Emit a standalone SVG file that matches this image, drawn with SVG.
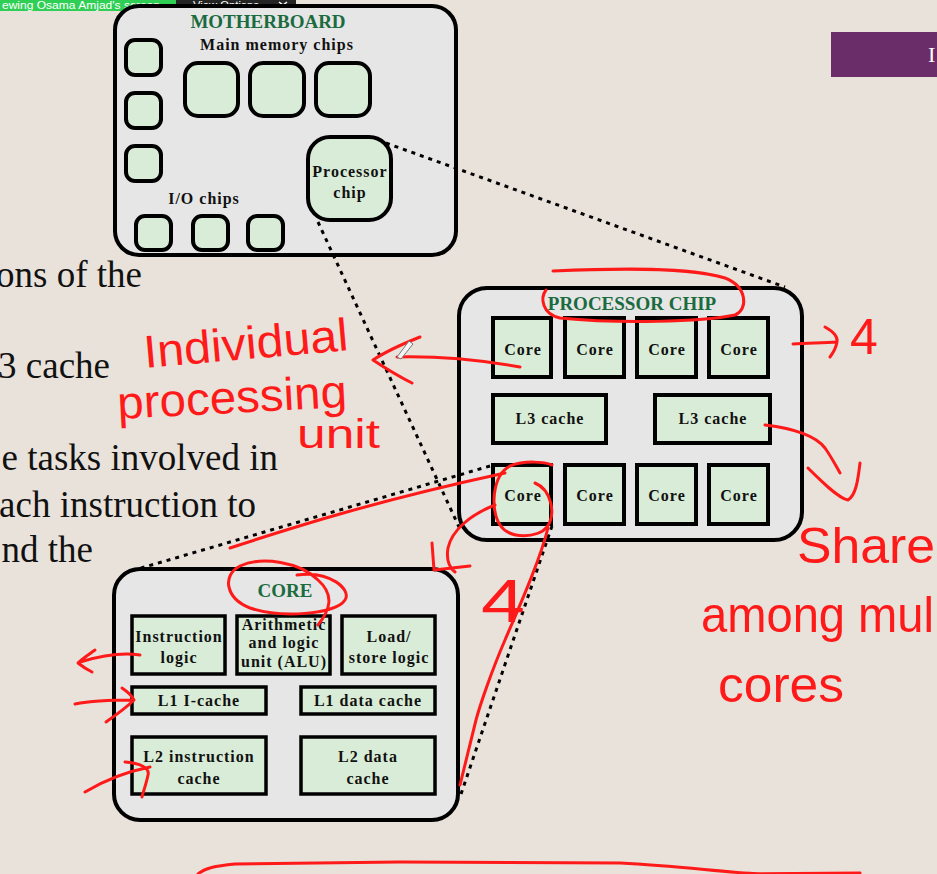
<svg xmlns="http://www.w3.org/2000/svg" width="937" height="874" viewBox="0 0 937 874">
<style>
.box{fill:#e6e6e6;stroke:#000;stroke-width:4}
.chip{fill:#d9ecd7;stroke:#000;stroke-width:4}
.ichip{fill:#d9ecd7;stroke:#000;stroke-width:3.5}
.lbl{font-family:"Liberation Serif","Times New Roman",serif;font-weight:bold;font-size:16px;letter-spacing:1px;text-anchor:middle;fill:#111}
.title{font-family:"Liberation Serif","Times New Roman",serif;font-weight:bold;font-size:19px;fill:#1b6b3f;text-anchor:middle}
.dot{stroke:#000;stroke-width:3;stroke-dasharray:4 5;fill:none}
.pen{stroke:#ff1a1a;stroke-width:3;fill:none;stroke-linecap:round;stroke-linejoin:round}
.hand{font-family:"Liberation Sans",Arial,sans-serif;fill:#ff1a1a}
.body{font-family:"Liberation Serif","Times New Roman",serif;font-size:37px;fill:#111;text-anchor:end}
.ui{font-family:"Liberation Sans",Arial,sans-serif;font-size:10px;fill:#fff}
</style>
<rect x="0" y="0" width="937" height="874" fill="#e9e2db"/>

<!-- slide body text fragments -->
<g id="slide-text">
<text class="body" x="142" y="287" font-size="35">ons of the</text>
<text class="body" x="110" y="378" font-size="35">3 cache</text>
<text class="body" x="278" y="470">e tasks involved in</text>
<text class="body" x="256" y="517">ach instruction to</text>
<text class="body" x="93" y="562">nd the</text>
</g>

<!-- screen share toolbar -->
<g id="toolbar">
<rect x="0" y="0" width="176" height="11" fill="#2fcf55"/>
<text class="ui" x="2" y="9" textLength="158" lengthAdjust="spacingAndGlyphs">ewing Osama Amjad's screen</text>
<path d="M176,0 H296 V7 Q296,11 292,11 H176 Z" fill="#242424"/>
<text class="ui" x="193" y="9" textLength="66" lengthAdjust="spacingAndGlyphs">View Options</text>
<polyline points="279,2 283,5 287,2" fill="none" stroke="#fff" stroke-width="1.5"/>
</g>

<g id="slide-title-bar">
<rect x="831" y="32" width="106" height="45" fill="#6b2d69"/>
<text x="928" y="62" font-family="Liberation Serif, serif" font-size="22" fill="#fff">I</text>
</g>

<!-- MOTHERBOARD -->
<g id="motherboard">
<rect class="box" x="115" y="6" width="341" height="249" rx="24"/>
<text class="title" x="268" y="28">MOTHERBOARD</text>
<text class="lbl" x="277" y="50">Main memory chips</text>
<rect class="chip" x="126" y="40" width="35" height="35" rx="9"/>
<rect class="chip" x="126" y="93" width="35" height="35" rx="9"/>
<rect class="chip" x="126" y="146" width="35" height="35" rx="9"/>
<rect class="chip" x="185" y="63" width="53" height="53" rx="13"/>
<rect class="chip" x="250" y="63" width="54" height="53" rx="13"/>
<rect class="chip" x="316" y="63" width="54" height="53" rx="13"/>
<text class="lbl" x="204" y="204">I/O chips</text>
<rect class="chip" x="136" y="216" width="35" height="34" rx="9"/>
<rect class="chip" x="193" y="216" width="35" height="34" rx="9"/>
<rect class="chip" x="248" y="216" width="35" height="34" rx="9"/>
</g>
<g id="mb-processor-chip">
<rect class="chip" x="308" y="137" width="83" height="83" rx="22"/>
<text class="lbl" x="350" y="177">Processor</text>
<text class="lbl" x="350" y="198">chip</text>
</g>

<!-- PROCESSOR CHIP -->
<g id="processor-chip">
<rect class="box" x="459" y="288" width="343" height="252" rx="28"/>
<text class="title" x="632" y="310">PROCESSOR CHIP</text>
<rect class="chip" x="493" y="318" width="58" height="59"/>
<rect class="chip" x="565" y="318" width="59" height="59"/>
<rect class="chip" x="637" y="318" width="59" height="59"/>
<rect class="chip" x="709" y="318" width="59" height="59"/>
<text class="lbl" x="523" y="355">Core</text>
<text class="lbl" x="595" y="355">Core</text>
<text class="lbl" x="667" y="355">Core</text>
<text class="lbl" x="739" y="355">Core</text>
<rect class="chip" x="493" y="395" width="113" height="48"/>
<rect class="chip" x="655" y="395" width="115" height="48"/>
<text class="lbl" x="550" y="424">L3 cache</text>
<text class="lbl" x="713" y="424">L3 cache</text>
<rect class="chip" x="565" y="465" width="59" height="59"/>
<rect class="chip" x="637" y="465" width="59" height="59"/>
<rect class="chip" x="709" y="465" width="59" height="59"/>
<text class="lbl" x="595" y="501">Core</text>
<text class="lbl" x="667" y="501">Core</text>
<text class="lbl" x="739" y="501">Core</text>
</g>
<g id="pc-core">
<rect class="chip" x="493" y="465" width="58" height="59"/>
<text class="lbl" x="523" y="501">Core</text>
</g>

<!-- CORE -->
<g id="core">
<rect class="box" x="114" y="569" width="344" height="251" rx="26"/>
<text class="title" x="285" y="597">CORE</text>
<rect class="ichip" x="132" y="616" width="93" height="58"/>
<text class="lbl" x="179" y="642">Instruction</text>
<text class="lbl" x="179" y="663">logic</text>
<rect class="ichip" x="237" y="616" width="93" height="58"/>
<text class="lbl" x="284" y="630">Arithmetic</text>
<text class="lbl" x="284" y="648">and logic</text>
<text class="lbl" x="284" y="667">unit (ALU)</text>
<rect class="ichip" x="342" y="616" width="93" height="58"/>
<text class="lbl" x="389" y="642">Load/</text>
<text class="lbl" x="389" y="663">store logic</text>
<rect class="ichip" x="132" y="687" width="134" height="27"/>
<text class="lbl" x="199" y="706">L1 I-cache</text>
<rect class="ichip" x="301" y="687" width="134" height="27"/>
<text class="lbl" x="368" y="706">L1 data cache</text>
<rect class="ichip" x="132" y="737" width="134" height="57"/>
<text class="lbl" x="199" y="762">L2 instruction</text>
<text class="lbl" x="199" y="784">cache</text>
<rect class="ichip" x="301" y="737" width="134" height="57"/>
<text class="lbl" x="368" y="762">L2 data</text>
<text class="lbl" x="368" y="784">cache</text>
</g>

<!-- connectors -->
<g id="connectors">
<line class="dot" x1="386" y1="143" x2="785" y2="287"/>
<line class="dot" x1="318" y1="222" x2="459" y2="527"/>
<line class="dot" x1="490" y1="466" x2="131" y2="571"/>
<line class="dot" x1="552" y1="526" x2="460" y2="797"/>
</g>

<!-- red pen annotations -->
<g id="annotations">
<path class="pen" d="M553,271 C620,268 690,267 725,278 C748,287 748,310 735,315 C700,322 620,324 560,318 C542,314 540,298 546,290"/>
<path class="pen" d="M520,367 C480,360 440,356 397,357 M420,337 C400,345 385,352 373,360 C385,368 398,376 412,383"/>
<path d="M397,357 L409,341 L413,344 L401,359 Z" fill="#f4f4f4" stroke="#777" stroke-width="1"/>
<text class="hand" x="145" y="368" font-size="46" textLength="205" lengthAdjust="spacingAndGlyphs" transform="rotate(-5 145 368)">Individual</text>
<text class="hand" x="118" y="419" font-size="46" textLength="230" lengthAdjust="spacingAndGlyphs" transform="rotate(-3 118 419)">processing</text>
<text class="hand" x="297" y="448" font-size="40" textLength="83" lengthAdjust="spacingAndGlyphs">unit</text>

<path class="pen" d="M793,344 C808,343 822,343 837,342 M825,327 C834,332 838,337 837,342 C836,348 833,353 830,357"/>
<text class="hand" x="850" y="354" font-size="50">4</text>

<path class="pen" d="M765,425 C790,428 815,435 825,448 C832,458 836,466 840,473 M808,468 C820,480 838,498 848,500 C856,495 858,480 860,463"/>

<path class="pen" d="M535,483 C552,490 556,515 547,527 C538,538 510,540 500,525 C490,510 492,475 510,466 C525,460 545,462 552,465"/>
<path class="pen" d="M230,548 C300,525 380,500 505,473"/>
<path class="pen" d="M495,505 C470,515 452,530 448,548 C446,560 450,568 455,572 M432,543 L434,570 L470,566"/>
<text class="hand" x="481" y="622" font-size="62" textLength="44" lengthAdjust="spacingAndGlyphs">4</text>
<path class="pen" d="M548,528 C540,560 520,605 505,640 C492,670 480,705 476,720 C470,745 465,765 460,785"/>

<path class="pen" d="M297,575 C330,570 352,590 345,600 C335,615 280,618 250,608 C225,598 222,575 240,566 C262,556 300,562 318,580 C335,595 330,610 318,625"/>

<path class="pen" d="M140,655 C120,652 100,656 80,662 M95,650 C88,655 82,659 78,663 C83,667 88,670 92,672"/>
<path class="pen" d="M75,704 C95,700 115,700 134,700 M122,688 C128,692 132,696 134,700 C126,708 116,715 106,722"/>
<path class="pen" d="M85,792 C105,780 125,772 150,767 M125,762 C140,763 150,768 148,775 C146,785 143,792 142,797"/>

<text class="hand" x="797" y="563" font-size="50" textLength="138" lengthAdjust="spacingAndGlyphs">Share</text>
<text class="hand" x="701" y="632" font-size="50" textLength="233" lengthAdjust="spacingAndGlyphs">among mul</text>
<text class="hand" x="718" y="702" font-size="50" textLength="126" lengthAdjust="spacingAndGlyphs">cores</text>

<path class="pen" d="M198,874 C205,868 215,866 235,864 L400,862 L620,863 C680,866 720,872 760,874 M740,874 L860,873"/>
</g>
</svg>
